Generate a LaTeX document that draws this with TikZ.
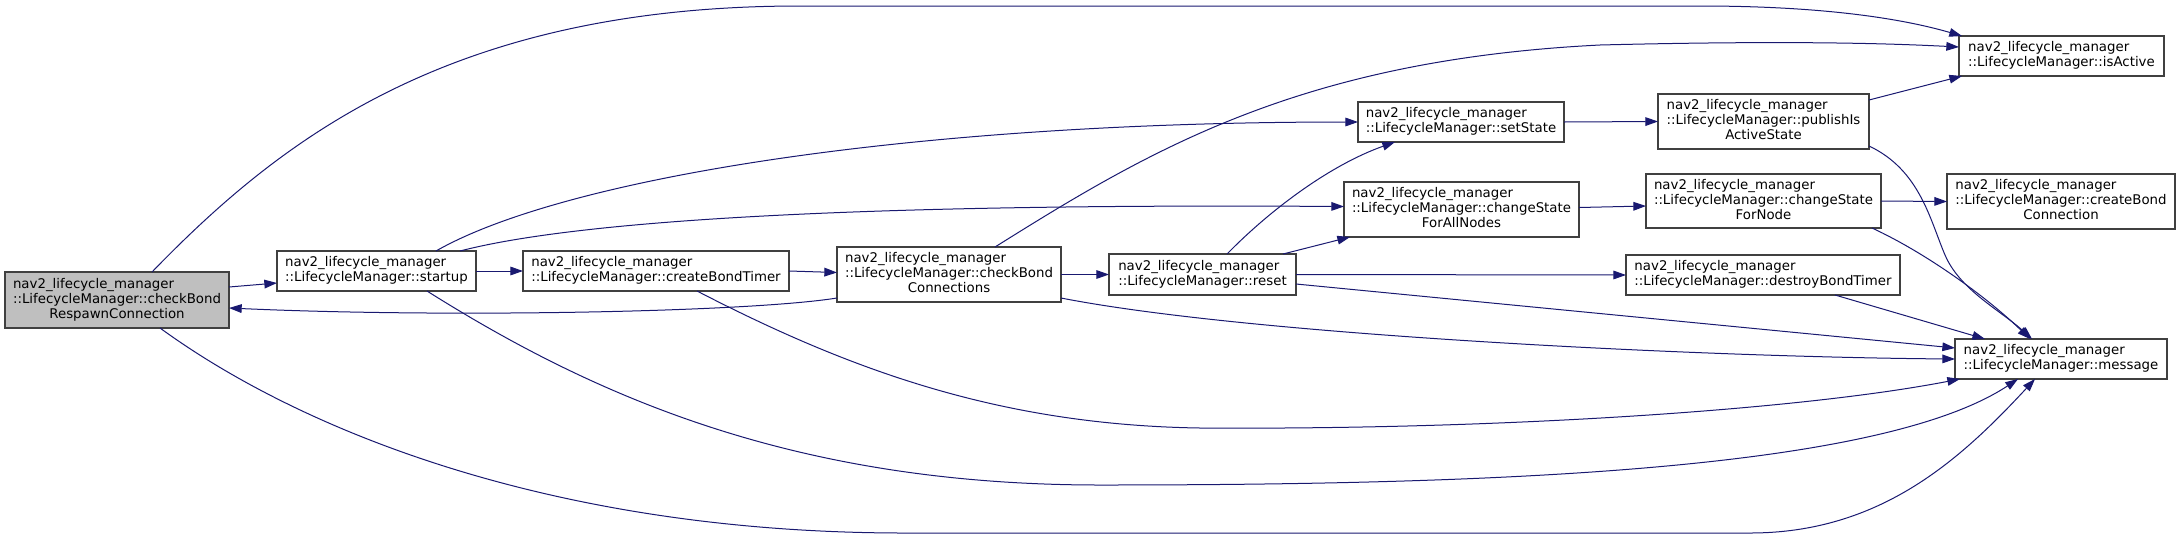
\documentclass[tikz,border=0pt]{standalone}
\usepackage{fontspec}
\setmainfont{DejaVu Sans}
\usetikzlibrary{arrows.meta,calc}
\definecolor{edgeblue}{RGB}{25,25,112}
\definecolor{boxline}{RGB}{64,64,64}
\definecolor{rootfill}{RGB}{191,191,191}
\newcommand\ntwo[2]{\begin{tabular}{@{}l@{}}#1\\#2\end{tabular}}
\newcommand\nthree[3]{\begin{tabular}{@{}l@{}}#1\\#2\\\multicolumn{1}{@{}c@{}}{#3}\end{tabular}}
\newcommand\nm{nav2\_lifecycle\_manager}
\begin{document}
\begin{tikzpicture}[x=0.75pt,y=-0.75pt,
  fn/.style={draw=boxline, line width=0.8pt, fill=white, inner sep=0pt, outer sep=0pt,
             rectangle, font=\fontsize{10}{11.25}\selectfont},
  root/.style={fn, fill=rootfill},
  sz/.style 2 args={minimum width=#1*0.75pt, minimum height=#2*0.75pt},
  e/.style={draw=edgeblue, line width=0.75pt, -{Triangle[length=9.5pt,width=6.5pt]}}]
\useasboundingbox (0,0) rectangle (2180,547);

% nodes
\node[root, sz={224}{56}] (A)    at (117,300)    {\nthree{\nm}{::LifecycleManager::checkBond}{RespawnConnection}};
\node[fn, sz={199}{40}]   (S)    at (376.5,271)  {\ntwo{\nm}{::LifecycleManager::startup}};
\node[fn, sz={266}{40}]   (CBT)  at (656,271)    {\ntwo{\nm}{::LifecycleManager::createBondTimer}};
\node[fn, sz={224}{55}]   (CBC)  at (949,274.5)  {\nthree{\nm}{::LifecycleManager::checkBond}{Connections}};
\node[fn, sz={187}{41}]   (R)    at (1202.5,274.5) {\ntwo{\nm}{::LifecycleManager::reset}};
\node[fn, sz={206}{40}]   (SS)   at (1461,122)   {\ntwo{\nm}{::LifecycleManager::setState}};
\node[fn, sz={235}{55}]   (CSA)  at (1461.5,209.5) {\nthree{\nm}{::LifecycleManager::changeState}{ForAllNodes}};
\node[fn, sz={211}{55}]   (PI)   at (1763.5,121.5) {\nthree{\nm}{::LifecycleManager::publishIs}{ActiveState}};
\node[fn, sz={235}{54}]   (CSN)  at (1763.5,201) {\nthree{\nm}{::LifecycleManager::changeState}{ForNode}};
\node[fn, sz={274}{40}]   (DBT)  at (1763,275)   {\ntwo{\nm}{::LifecycleManager::destroyBondTimer}};
\node[fn, sz={205}{40}]   (IA)   at (2061.5,56)  {\ntwo{\nm}{::LifecycleManager::isActive}};
\node[fn, sz={228}{55}]   (CBN)  at (2061,201.5) {\nthree{\nm}{::LifecycleManager::createBond}{Connection}};
\node[fn, sz={212}{40}]   (M)    at (2061,359)   {\ntwo{\nm}{::LifecycleManager::message}};

% edges
\draw[e] ($(A.north east)+(0,15)$) -- ($(S.north west)+(0,32)$);
\draw[e] ($(A.north west)+(147,0)$) .. controls (280,140) and (450,6) .. (800,6)
   -- (1700,6) .. controls (1820,6) and (1900,18) .. ($(IA.north west)+(3,0)$);
\draw[e] ($(A.south west)+(155,0)$) .. controls (300,430) and (550,532) .. (900,533)
   -- (1750,533) .. controls (1880,533) and (1960,460) .. ($(M.south west)+(80,0)$);
\draw[e] (S.east) -- (CBT.west);
\draw[e] ($(S.north west)+(159,0)$) .. controls (560,180) and (900,122) .. (SS.west);
\draw[e] ($(S.north west)+(183,0)$) .. controls (560,225) and (800,203) .. ($(CSA.west)+(0,-3)$);
\draw[e] ($(S.south west)+(150,0)$) .. controls (600,400) and (800,485) .. (1100,485)
   .. controls (1500,485) and (1880,470) .. ($(M.south west)+(63,0)$);
\draw[e] (CBT.east) -- ($(CBC.west)+(0,-2)$);
\draw[e] ($(CBT.south west)+(174,0)$) .. controls (850,370) and (1000,425) .. (1200,428)
   .. controls (1500,430) and (1800,410) .. ($(M.south west)+(5,0)$);
\draw[e] ($(CBC.south west)+(0,-4)$) .. controls (750,312) and (450,318) .. ($(A.north east)+(0,36)$);
\draw[e] (CBC.east) -- (R.west);
\draw[e] ($(CBC.north west)+(158,0)$) .. controls (1150,150) and (1300,60) .. (1600,45)
   .. controls (1800,40) and (1900,44) .. ($(IA.north west)+(0,11)$);
\draw[e] ($(CBC.south east)+(0,-4)$) .. controls (1250,335) and (1700,357) .. (M.west);
\draw[e] ($(R.north west)+(118,0)$) .. controls (1270,210) and (1330,165) .. ($(SS.south west)+(37,0)$);
\draw[e] ($(R.north west)+(174,0)$) -- ($(CSA.south west)+(6,0)$);
\draw[e] (R.east) -- (DBT.west);
\draw[e] ($(R.east)+(0,9.5)$) -- ($(M.north west)+(0,9)$);
\draw[e] (SS.east) -- (PI.west);
\draw[e] ($(CSA.east)+(0,-2)$) -- ($(CSN.west)+(0,5)$);
\draw[e] ($(PI.north east)+(0,6)$) -- ($(IA.south west)+(3,0)$);
\draw[e] ($(PI.south east)+(0,-3)$) .. controls (1920,170) and (1930,220) .. (1945,255)
   .. controls (1960,290) and (2000,310) .. ($(M.north west)+(77,0)$);
\draw[e] (CSN.east) -- (CBN.west);
\draw[e] ($(CSN.south east)+(-9,0)$) .. controls (1930,255) and (1990,300) .. ($(M.north west)+(75,0)$);
\draw[e] ($(DBT.south west)+(209,0)$) -- ($(M.north west)+(30,0)$);
\end{tikzpicture}
\end{document}
